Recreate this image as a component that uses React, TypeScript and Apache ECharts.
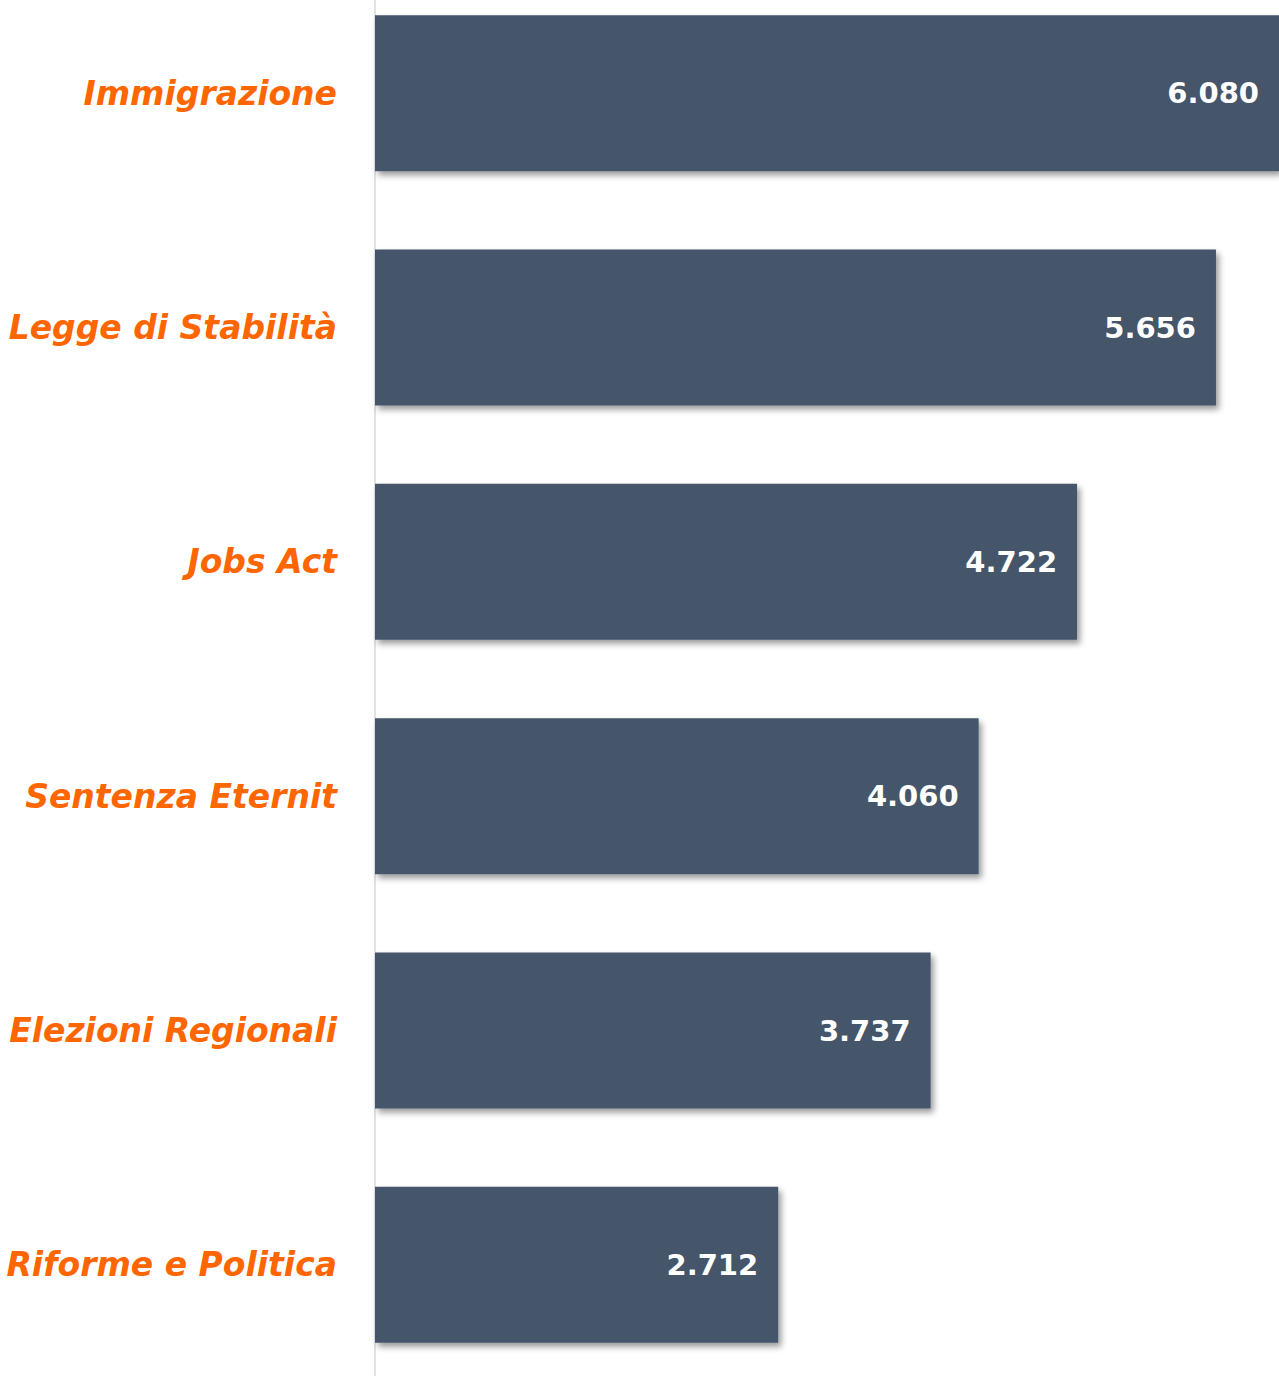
import React, { useEffect, useRef } from "react";
import * as echarts from "echarts";

const categories = [
  "Immigrazione",
  "Legge di Stabilità",
  "Jobs Act",
  "Sentenza Eternit",
  "Elezioni Regionali",
  "Riforme e Politica",
];
const values = [6080, 5656, 4722, 4060, 3737, 2712];

const fmt = (v: number) => {
  const s = String(v);
  return s.length > 3 ? s.slice(0, s.length - 3) + "." + s.slice(s.length - 3) : s;
};

export default function App() {
  const ref = useRef<HTMLDivElement>(null);
  useEffect(() => {
    if (!ref.current) return;
    const chart = echarts.init(ref.current, null, { renderer: "svg" });
    chart.setOption({
      animation: false,
      backgroundColor: "#ffffff",
      grid: { left: 375, right: 0, top: 0, bottom: 0, containLabel: false },
      xAxis: {
        type: "value",
        min: 0,
        max: 6080,
        show: false,
      },
      yAxis: {
        type: "category",
        data: categories,
        inverse: true,
        axisLine: { show: true, lineStyle: { color: "#d9d9d9", width: 1.5 } },
        axisTick: { show: false },
        axisLabel: {
          margin: 38,
          color: "#ff6600",
          fontFamily: "DejaVu Sans",
          fontStyle: "italic",
          fontWeight: "bold",
          fontSize: 33,
        },
      },
      series: [
        {
          type: "bar",
          data: values,
          barCategoryGap: "33.4%",
          itemStyle: {
            color: "#44546a",
            shadowColor: "rgba(0,0,0,0.4)",
            shadowBlur: 6,
            shadowOffsetX: 3,
            shadowOffsetY: 4,
          },
          label: {
            show: true,
            position: "insideRight",
            distance: 20,
            color: "#ffffff",
            fontFamily: "DejaVu Sans",
            fontWeight: "bold",
            fontSize: 29,
            formatter: (p: any) => fmt(p.value),
          },
        },
      ],
    });
    return () => chart.dispose();
  }, []);
  return (
    <div
      style={{ position: "fixed", left: 0, top: 0, width: 1279, height: 1376, overflow: "hidden", background: "#fff" }}
    >
      <div
        ref={ref}
        style={{ position: "absolute", left: 0, top: -24, width: 1279, height: 1406 }}
      />
    </div>
  );
}
